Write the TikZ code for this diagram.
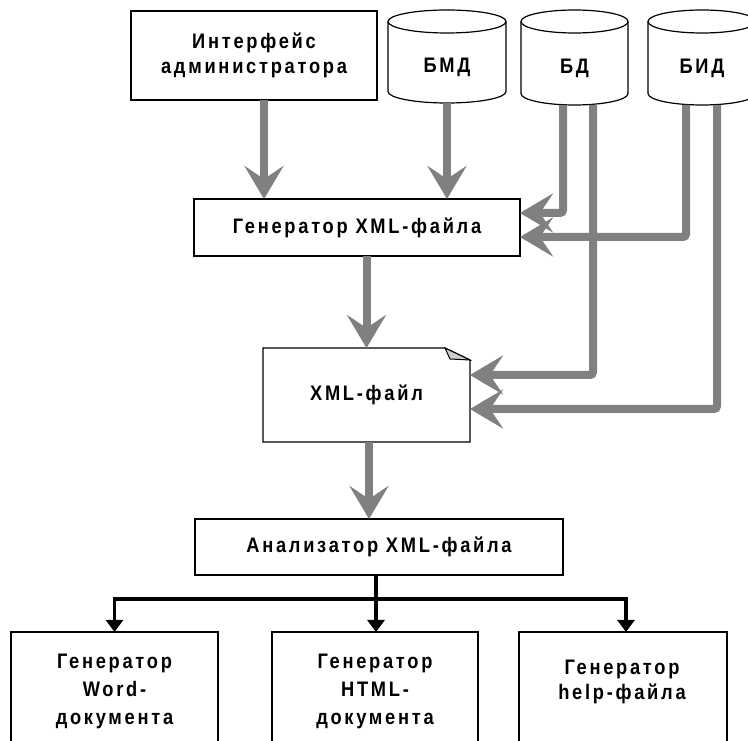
\documentclass[tikz,border=0pt]{standalone}
\usepackage{fontspec}
\newfontfamily\lblfont{Liberation Sans}[LetterSpace=13, FakeStretch=0.87]
\usetikzlibrary{arrows.meta,calc}
\definecolor{flowgray}{RGB}{128,128,128}
\definecolor{foldgray}{RGB}{205,205,205}
\tikzset{
  lbl/.style={font=\lblfont\bfseries\fontsize{21}{#1}\selectfont},
  lbl/.default=26,
  blockbox/.style={draw, line width=1.2pt, inner sep=0pt, outer sep=0pt, align=center, lbl},
  plainlabel/.style={inner sep=0pt, outer sep=0pt, align=center, lbl},
  dbnode/.style={inner sep=0pt, outer sep=0pt, text height=33pt, text depth=0pt, lbl},
  flow/.style={draw=flowgray, line width=8pt, rounded corners=3pt,
    -{Stealth[length=33pt,width=39pt,inset=13pt]}},
  branch/.style={draw=black, line width=3.3pt,
    -{Triangle[length=12pt,width=17pt]}},
}
% outline of a database cylinder fitted to the node #1, half width #2, ellipse half height #3
\newcommand\dbcylinder[3]{%
  \draw[line width=1.2pt]
    ($(#1.north west)+(0,-#3)$) -- ($(#1.south west)+(0,#3)$)
    arc[start angle=180, end angle=360, x radius=#2, y radius=#3]
    -- ($(#1.north east)+(0,-#3)$)
    arc[start angle=0, end angle=180, x radius=#2, y radius=#3];
  \draw[line width=1.2pt] ($(#1.north west)+(0,-#3)$)
    arc[start angle=180, end angle=360, x radius=#2, y radius=#3];
}
\begin{document}
\begin{tikzpicture}[x=1pt, y=1pt]
\useasboundingbox (0,0) rectangle (748,740);

% sources
\node[blockbox, lbl=25, minimum width=246, minimum height=89] (iface) at (254,684.5)
  {Интерфейс\\администратора};
\node[dbnode, minimum width=118, minimum height=93] (bmd) at (447,683.5) {БМД};
\node[dbnode, minimum width=107, minimum height=95] (bd) at (574.5,682.5) {БД};
\node[dbnode, minimum width=108, minimum height=95] (bid) at (702,682.5) {БИД};
\dbcylinder{bmd}{59}{11.5}
\dbcylinder{bd}{53.5}{11.5}
\dbcylinder{bid}{54}{11.5}

% generator and the XML file
\node[blockbox, minimum width=326, minimum height=57] (gen) at (357,512.5)
  {Генератор XML-файла};
\node[plainlabel, minimum width=207, minimum height=94] (xml) at (366.5,345) {XML-файл};
\draw[line width=1.2pt] (xml.south west) -- (xml.north west)
  -- ([xshift=-25]xml.north east) -- ([yshift=-12]xml.north east)
  -- (xml.south east) -- cycle;
\draw[line width=1pt, fill=foldgray] ([xshift=-25]xml.north east)
  -- ([xshift=-20,yshift=-11]xml.north east) -- ([yshift=-12]xml.north east) -- cycle;

% analyzer and the output generators
\node[blockbox, minimum width=368, minimum height=56] (ana) at (379,193)
  {Анализатор XML-файла};
\node[blockbox, lbl=28, minimum width=207, minimum height=118] (word) at (114.5,49)
  {Генератор\\Word-\\документа};
\node[blockbox, lbl=28, minimum width=206, minimum height=118] (html) at (375,49)
  {Генератор\\HTML-\\документа};
\node[blockbox, minimum width=208, minimum height=118] (help) at (623,49) {};
\node[plainlabel, lbl=25] (helplabel) at (622,58) {Генератор\\help-файла};

% data flows
\draw[flow] ([xshift=10]iface.south) -- ([xshift=10]iface.south |- gen.north);
\draw[flow] (bmd.south) -- (bmd.south |- gen.north);
\draw[flow] ([xshift=-11.5]bd.south) |- ([yshift=14.5]gen.east);
\draw[flow] ([xshift=-16]bid.south) |- ([yshift=-9.5]gen.east);
\draw[flow] ([xshift=18.5]bd.south) |- ([yshift=20]xml.east);
\draw[flow] ([xshift=15]bid.south) |- ([yshift=-14]xml.east);
\draw[flow] (gen.south -| xml.north) -- (xml.north);
\draw[flow] ([xshift=2.5]xml.south) -- ([xshift=2.5]xml.south |- ana.north);

% branching to the output generators
\coordinate (split) at ($(ana.south)+(-3,-24)$);
\draw[branch] ([xshift=-3]ana.south) -- ([xshift=-3]ana.south |- html.north);
\draw[branch] (split) -| (word.north);
\draw[branch] (split) -| ([xshift=3]help.north);
\end{tikzpicture}
\end{document}
